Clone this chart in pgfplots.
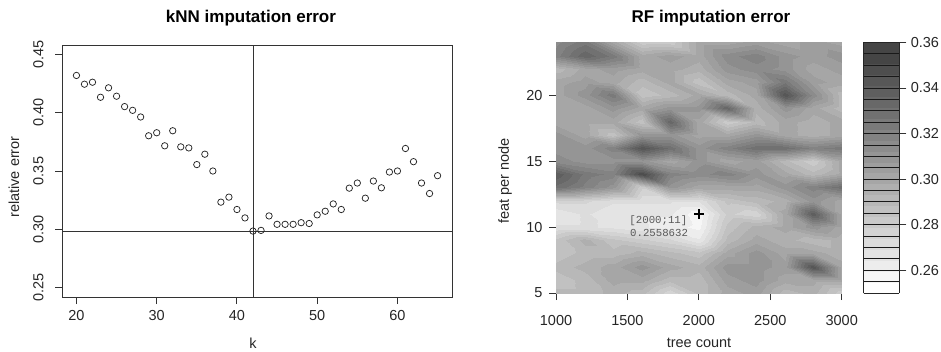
\documentclass[border=0pt]{standalone}
\usepackage{fontspec}
\setmainfont{Liberation Sans}
\newfontfamily\monofont{Liberation Mono}
\usepackage{pgfplots}
\usepackage{pgfplotstable}
\pgfplotsset{compat=1.18}

\pgfplotstableread{
k err
20 0.4319
21 0.4244
22 0.4261
23 0.4132
24 0.4213
25 0.4141
26 0.4052
27 0.4020
28 0.3963
29 0.3802
30 0.3828
31 0.3716
32 0.3845
33 0.3707
34 0.3698
35 0.3555
36 0.3644
37 0.3500
38 0.3233
39 0.3276
40 0.3170
41 0.3098
42 0.2985
43 0.2991
44 0.3115
45 0.3043
46 0.3043
47 0.3043
48 0.3057
49 0.3050
50 0.3124
51 0.3155
52 0.3218
53 0.3170
54 0.3353
55 0.3397
56 0.3267
57 0.3414
58 0.3356
59 0.3491
60 0.3500
61 0.3693
62 0.3580
63 0.3397
64 0.3307
65 0.3460
}\knndata

\pgfplotstableread[row sep=\\]{
t f v\\
1000 5 0.29\\ 1200 5 0.29\\ 1400 5 0.295\\ 1600 5 0.29\\ 1800 5 0.275\\ 2000 5 0.29\\ 2200 5 0.30\\ 2400 5 0.305\\ 2600 5 0.29\\ 2800 5 0.295\\ 3000 5 0.28\\
1000 6 0.285\\ 1200 6 0.29\\ 1400 6 0.30\\ 1600 6 0.30\\ 1800 6 0.29\\ 2000 6 0.29\\ 2200 6 0.305\\ 2400 6 0.31\\ 2600 6 0.30\\ 2800 6 0.30\\ 3000 6 0.30\\
1000 7 0.29\\ 1200 7 0.295\\ 1400 7 0.30\\ 1600 7 0.31\\ 1800 7 0.30\\ 2000 7 0.295\\ 2200 7 0.31\\ 2400 7 0.31\\ 2600 7 0.305\\ 2800 7 0.345\\ 3000 7 0.30\\
1000 8 0.285\\ 1200 8 0.29\\ 1400 8 0.29\\ 1600 8 0.295\\ 1800 8 0.29\\ 2000 8 0.285\\ 2200 8 0.30\\ 2400 8 0.31\\ 2600 8 0.30\\ 2800 8 0.30\\ 3000 8 0.295\\
1000 9 0.285\\ 1200 9 0.295\\ 1400 9 0.285\\ 1600 9 0.28\\ 1800 9 0.275\\ 2000 9 0.265\\ 2200 9 0.29\\ 2400 9 0.30\\ 2600 9 0.295\\ 2800 9 0.29\\ 3000 9 0.295\\
1000 10 0.27\\ 1200 10 0.27\\ 1400 10 0.268\\ 1600 10 0.265\\ 1800 10 0.262\\ 2000 10 0.258\\ 2200 10 0.285\\ 2400 10 0.295\\ 2600 10 0.30\\ 2800 10 0.31\\ 3000 10 0.30\\
1000 11 0.265\\ 1200 11 0.27\\ 1400 11 0.265\\ 1600 11 0.265\\ 1800 11 0.265\\ 2000 11 0.2559\\ 2200 11 0.28\\ 2400 11 0.275\\ 2600 11 0.30\\ 2800 11 0.34\\ 3000 11 0.30\\
1000 12 0.275\\ 1200 12 0.275\\ 1400 12 0.27\\ 1600 12 0.27\\ 1800 12 0.27\\ 2000 12 0.27\\ 2200 12 0.285\\ 2400 12 0.29\\ 2600 12 0.295\\ 2800 12 0.31\\ 3000 12 0.30\\
1000 13 0.33\\ 1200 13 0.32\\ 1400 13 0.31\\ 1600 13 0.28\\ 1800 13 0.31\\ 2000 13 0.30\\ 2200 13 0.30\\ 2400 13 0.30\\ 2600 13 0.31\\ 2800 13 0.32\\ 3000 13 0.33\\
1000 14 0.34\\ 1200 14 0.325\\ 1400 14 0.32\\ 1600 14 0.35\\ 1800 14 0.32\\ 2000 14 0.315\\ 2200 14 0.32\\ 2400 14 0.31\\ 2600 14 0.30\\ 2800 14 0.29\\ 3000 14 0.30\\
1000 15 0.315\\ 1200 15 0.31\\ 1400 15 0.31\\ 1600 15 0.31\\ 1800 15 0.30\\ 2000 15 0.31\\ 2200 15 0.30\\ 2400 15 0.305\\ 2600 15 0.29\\ 2800 15 0.28\\ 3000 15 0.30\\
1000 16 0.31\\ 1200 16 0.31\\ 1400 16 0.32\\ 1600 16 0.345\\ 1800 16 0.33\\ 2000 16 0.31\\ 2200 16 0.32\\ 2400 16 0.33\\ 2600 16 0.33\\ 2800 16 0.32\\ 3000 16 0.325\\
1000 17 0.31\\ 1200 17 0.30\\ 1400 17 0.285\\ 1600 17 0.31\\ 1800 17 0.31\\ 2000 17 0.30\\ 2200 17 0.30\\ 2400 17 0.31\\ 2600 17 0.30\\ 2800 17 0.295\\ 3000 17 0.30\\
1000 18 0.30\\ 1200 18 0.30\\ 1400 18 0.30\\ 1600 18 0.285\\ 1800 18 0.335\\ 2000 18 0.30\\ 2200 18 0.28\\ 2400 18 0.29\\ 2600 18 0.30\\ 2800 18 0.295\\ 3000 18 0.30\\
1000 19 0.30\\ 1200 19 0.30\\ 1400 19 0.31\\ 1600 19 0.30\\ 1800 19 0.31\\ 2000 19 0.31\\ 2200 19 0.335\\ 2400 19 0.295\\ 2600 19 0.31\\ 2800 19 0.30\\ 3000 19 0.29\\
1000 20 0.30\\ 1200 20 0.31\\ 1400 20 0.325\\ 1600 20 0.285\\ 1800 20 0.29\\ 2000 20 0.30\\ 2200 20 0.29\\ 2400 20 0.30\\ 2600 20 0.345\\ 2800 20 0.315\\ 3000 20 0.29\\
1000 21 0.30\\ 1200 21 0.305\\ 1400 21 0.30\\ 1600 21 0.29\\ 1800 21 0.30\\ 2000 21 0.285\\ 2200 21 0.30\\ 2400 21 0.305\\ 2600 21 0.325\\ 2800 21 0.305\\ 3000 21 0.30\\
1000 22 0.29\\ 1200 22 0.30\\ 1400 22 0.305\\ 1600 22 0.30\\ 1800 22 0.30\\ 2000 22 0.295\\ 2200 22 0.31\\ 2400 22 0.315\\ 2600 22 0.31\\ 2800 22 0.30\\ 3000 22 0.305\\
1000 23 0.32\\ 1200 23 0.335\\ 1400 23 0.325\\ 1600 23 0.30\\ 1800 23 0.305\\ 2000 23 0.30\\ 2200 23 0.315\\ 2400 23 0.32\\ 2600 23 0.31\\ 2800 23 0.305\\ 3000 23 0.31\\
1000 24 0.315\\ 1200 24 0.325\\ 1400 24 0.30\\ 1600 24 0.28\\ 1800 24 0.28\\ 2000 24 0.30\\ 2200 24 0.30\\ 2400 24 0.305\\ 2600 24 0.30\\ 2800 24 0.305\\ 3000 24 0.30\\
}\rfdata

\pgfplotsset{
  rstyle/.style={
    scale only axis,
    axis line style={black!80, line width=0.9pt},
    tick style={black!80, line width=0.9pt},
    tick align=outside,
    major tick length=7pt,
    xtick pos=bottom, ytick pos=left,
    /pgf/number format/assume math mode=true,
    /pgf/number format/1000 sep={},
    scaled ticks=false,
    tick label style={font=\fontsize{14.5}{17}\selectfont, text=black!85},
  },
}

\begin{document}
\begin{tikzpicture}[x=1pt,y=1pt]
\useasboundingbox (0,0) rectangle (941,351);

% ---------------- kNN panel ----------------
\begin{axis}[rstyle,
  at={(62pt,54pt)}, anchor=south west,
  width=390pt, height=252pt,
  xmin=18.2, xmax=66.8, ymin=0.242, ymax=0.458,
  xtick={20,30,40,50,60},
  ytick={0.25,0.30,0.35,0.40,0.45},
  xticklabel shift=2.5pt,
  yticklabel shift=8pt,
  yticklabel style={rotate=90, anchor=south, /pgf/number format/.cd, fixed, fixed zerofill, precision=2},
]
\addplot[black!80, line width=0.9pt] coordinates {(18.2,0.2985) (66.8,0.2985)};
\addplot[black!80, line width=0.9pt] coordinates {(42,0.242) (42,0.458)};
\addplot[only marks, mark=o, mark size=3.2pt, black!85, mark options={line width=0.75pt}] table[x=k, y=err] {\knndata};
\end{axis}

% ---------------- RF panel ----------------
\begin{axis}[rstyle,
  at={(556pt,58pt)}, anchor=south west,
  width=285.7pt, height=250.6pt,
  xmin=1000, xmax=3000, ymin=5, ymax=24,
  xtick={1000,1500,2000,2500,3000},
  ytick={5,10,15,20},
  xticklabel shift=12pt,
  yticklabel shift=3pt,
  colormap={rgray}{gray=(1.000); gray=(0.965); gray=(0.930); gray=(0.896); gray=(0.861); gray=(0.826); gray=(0.791); gray=(0.757); gray=(0.722); gray=(0.687); gray=(0.652); gray=(0.618); gray=(0.583); gray=(0.548); gray=(0.513); gray=(0.479); gray=(0.444); gray=(0.409); gray=(0.374); gray=(0.340); gray=(0.305); gray=(0.270); gray=(0.270)},
  colormap access=piecewise const,
  point meta min=0.25, point meta max=0.36,
  colorbar,
  colorbar style={
    at={(parent axis.north east)}, anchor=north west, xshift=13.3pt,
    width=35.7pt,
    axis line style={black!85, line width=0.8pt},
    ytick={0.26,0.28,0.30,0.32,0.34,0.36},
    ytick pos=right, yticklabel pos=right,
    tick align=outside, major tick length=7pt,
    tick style={black!80, line width=0.8pt},
    yticklabel style={font=\fontsize{14.5}{17}\selectfont, text=black!85, xshift=1pt,
      /pgf/number format/.cd, fixed, fixed zerofill, precision=2, assume math mode=true},
    minor ytick={0.255,0.265,0.27,0.275,0.285,0.29,0.295,0.305,0.31,0.315,0.325,0.33,0.335,0.345,0.35,0.355},
    minor tick length=0pt,
    ymajorgrids, yminorgrids,
    major grid style={black!90, line width=0.8pt},
    minor grid style={black!90, line width=0.8pt},
  },
]
\addplot[surf, shader=interp, mesh/cols=11, mesh/rows=20, mesh/ordering=x varies, point meta=explicit]
  table[x=t, y=f, meta=v] {\rfdata};
\addplot[only marks, mark=+, mark size=4.8pt, black, mark options={line width=1.7pt}] coordinates {(2000,11)};
\node[anchor=west, inner sep=0pt, font=\monofont\fontsize{10.7}{12}\selectfont, text=black!65] at (axis cs:1513,10.45) {[2000;11]};
\node[anchor=west, inner sep=0pt, font=\monofont\fontsize{10.7}{12}\selectfont, text=black!65] at (axis cs:1518,9.52) {0.2558632};
\end{axis}

% ---------------- titles and labels ----------------
\node[font=\bfseries\fontsize{17}{20}\selectfont] at (251,333) {kNN imputation error};
\node[font=\bfseries\fontsize{17}{20}\selectfont] at (711,333) {RF imputation error};
\node[font=\fontsize{14.5}{17}\selectfont, text=black!85] at (253,8) {k};
\node[font=\fontsize{14.5}{17}\selectfont, text=black!85, rotate=90] at (14,174) {relative error};
\node[font=\fontsize{14.5}{17}\selectfont, text=black!85] at (699,8) {tree count};
\node[font=\fontsize{14.5}{17}\selectfont, text=black!85, rotate=90] at (505,170) {feat per node};
\end{tikzpicture}
\end{document}
